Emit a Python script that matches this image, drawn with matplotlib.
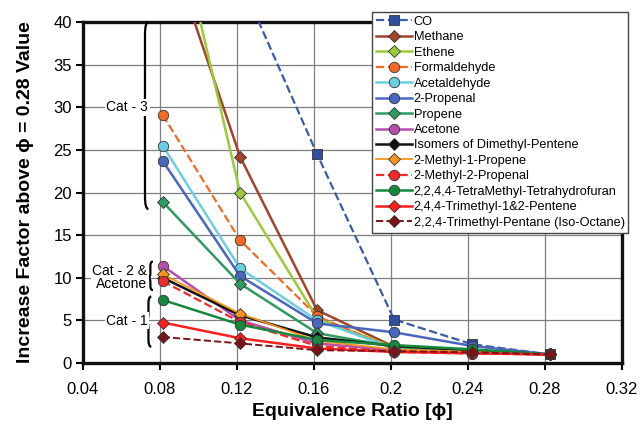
import numpy as np
import matplotlib.pyplot as plt
from matplotlib.path import Path
from matplotlib.patches import PathPatch

plt.rcParams['font.family'] = ['Liberation Sans', 'DejaVu Sans']

phi = [0.0814, 0.1216, 0.1616, 0.2016, 0.2421, 0.2826]
nan = np.nan

species = [
    'CO', 'Methane', 'Ethene', 'Formaldehyde', 'Acetaldehyde', '2-Propenal',
    'Propene', 'Acetone', 'Isomers of Dimethyl-Pentene', '2-Methyl-1-Propene',
    '2-Methyl-2-Propenal', '2,2,4,4-TetraMethyl-Tetrahydrofuran',
    '2,4,4-Trimethyl-1&2-Pentene', '2,2,4-Trimethyl-Pentane (Iso-Octane)',
]
co = [nan, 45.0, 24.5, 5.1, 2.2, 1.0]
methane = [51.0, 24.2, 6.2, 1.9, 1.3, 1.0]
ethene = [59.0, 20.0, 5.3, 1.8, 1.3, 1.0]
formaldehyde = [29.1, 14.4, 5.5, 1.6, 1.2, 1.0]
acetaldehyde = [25.5, 11.1, 5.0, 1.7, 1.3, 1.0]
propenal = [23.7, 10.2, 4.65, 3.6, 2.0, 1.0]
propene = [18.9, 9.3, 3.5, 1.9, 1.4, 1.0]
acetone = [11.4, 5.0, 2.3, 1.5, 1.2, 1.0]
dimethylpentene = [10.0, 5.6, 3.0, 2.0, 1.5, 1.0]
methylpropene = [10.4, 5.8, 2.6, 1.6, 1.3, 1.0]
methylpropenal = [9.6, 4.8, 2.0, 1.3, 1.1, 1.0]
thf = [7.4, 4.5, 2.7, 2.1, 1.6, 1.0]
trimethylpentene = [4.75, 2.9, 1.7, 1.3, 1.15, 1.0]
isooctane = [3.05, 2.3, 1.5, 1.4, 1.25, 1.0]

values = [co, methane, ethene, formaldehyde, acetaldehyde, propenal, propene,
          acetone, dimethylpentene, methylpropene, methylpropenal, thf,
          trimethylpentene, isooctane]

# color, marker, linestyle, linewidth, marker face
styles = [
    ('#3B5BA9', 's', '--', 1.6, '#2F4F9E'),
    ('#A3432A', 'D', '-', 1.8, '#A3432A'),
    ('#9BCB3B', 'D', '-', 1.8, '#9BCB3B'),
    ('#F26A24', 'o', '--', 1.6, '#F26A24'),
    ('#6CCFE0', 'o', '-', 1.8, '#6CCFE0'),
    ('#4A67BE', 'o', '-', 1.8, '#4A67BE'),
    ('#2F9A62', 'D', '-', 1.8, '#2F9A62'),
    ('#B54FAB', 'o', '-', 1.8, '#B54FAB'),
    ('#111111', 'D', '-', 1.8, '#111111'),
    ('#F7941D', 'D', '-', 1.3, '#F7941D'),
    ('#EE2B2B', 'o', '--', 1.6, '#EE2B2B'),
    ('#15883C', 'o', '-', 1.8, '#15883C'),
    ('#FF1E1E', 'D', '-', 1.8, '#FF1E1E'),
    ('#7B1418', 'D', '--', 1.4, '#7B1418'),
]


def brace(ax, x, y0, y1, ytip, w, r):
    # left-facing curly brace: spine at x, tip at x - w, ends curl to x + w
    verts = [(x + w, y1), (x, y1), (x, y1 - r),
             (x, ytip + r), (x, ytip), (x - w, ytip),
             (x, ytip), (x, ytip - r),
             (x, y0 + r), (x, y0), (x + w, y0)]
    codes = [Path.MOVETO, Path.CURVE3, Path.CURVE3,
             Path.LINETO, Path.CURVE3, Path.CURVE3,
             Path.CURVE3, Path.CURVE3,
             Path.LINETO, Path.CURVE3, Path.CURVE3]
    ax.add_patch(PathPatch(Path(verts, codes), fill=False, lw=1.6,
                           color='black', clip_on=False, zorder=4))


fig = plt.figure(figsize=(6.42, 4.47), dpi=100)
ax = fig.add_axes([83 / 642, 1 - 363 / 447, 539 / 642, 341 / 447])

for name, vals, (c, m, ls, lw, fc) in zip(species, values, styles):
    ms = 7.5 if m == 'o' else (7 if m == 's' else 6)
    ax.plot(phi, vals, color=c, ls=ls, lw=lw, marker=m, ms=ms,
            mfc=fc, mec='#333333', mew=0.6, label=name, zorder=3)

ax.set_xlim(0.04, 0.32)
ax.set_ylim(0, 40)
ax.set_xticks(np.arange(0.04, 0.321, 0.04))
ax.set_xticklabels(['0.04', '0.08', '0.12', '0.16', '0.2', '0.24', '0.28', '0.32'])
ax.set_yticks(np.arange(0, 41, 5))
ax.grid(True, color='#7f7f7f', lw=0.9)
ax.set_axisbelow(True)
for s in ax.spines.values():
    s.set_linewidth(2.4)
    s.set_color('#111111')
ax.tick_params(labelsize=12, width=1.5, length=5, direction='out')
ax.tick_params(axis='x', pad=9)
ax.tick_params(axis='y', pad=3)

ax.set_xlabel('Equivalence Ratio [ϕ]', fontsize=14, fontweight='bold', labelpad=4)
ax.set_ylabel('Increase Factor above ϕ = 0.28 Value', fontsize=14,
              fontweight='bold', labelpad=14)

# category braces
brace(ax, 0.0722, 18.05, 40.0, 30.0, 0.0018, 1.5)
brace(ax, 0.0750, 8.55, 11.9, 10.0, 0.0013, 0.5)
brace(ax, 0.0740, 1.9, 7.8, 4.95, 0.0015, 0.8)

box = dict(facecolor='white', edgecolor='none', pad=1)
ax.text(0.0630, 30.0, 'Cat - 3', ha='center', va='center', fontsize=10,
        bbox=box, zorder=5)
ax.text(0.0735, 10.0, 'Cat - 2 &\nAcetone', ha='right', va='center', fontsize=10,
        linespacing=0.95, multialignment='right', bbox=box, zorder=5)
ax.text(0.0630, 4.95, 'Cat - 1', ha='center', va='center', fontsize=10,
        bbox=box, zorder=5)

leg = ax.legend(loc='upper left', bbox_to_anchor=(372 / 642, 1 - 12 / 447),
                bbox_transform=fig.transFigure, borderaxespad=0,
                prop={'size': 9.2},
                handlelength=2.8, handletextpad=0.15, labelspacing=0.27,
                borderpad=0.3, fancybox=False, framealpha=1, edgecolor='#444444')
leg.get_frame().set_linewidth(1.0)
leg.set_zorder(6)

fig.savefig('out.png', dpi=100)
